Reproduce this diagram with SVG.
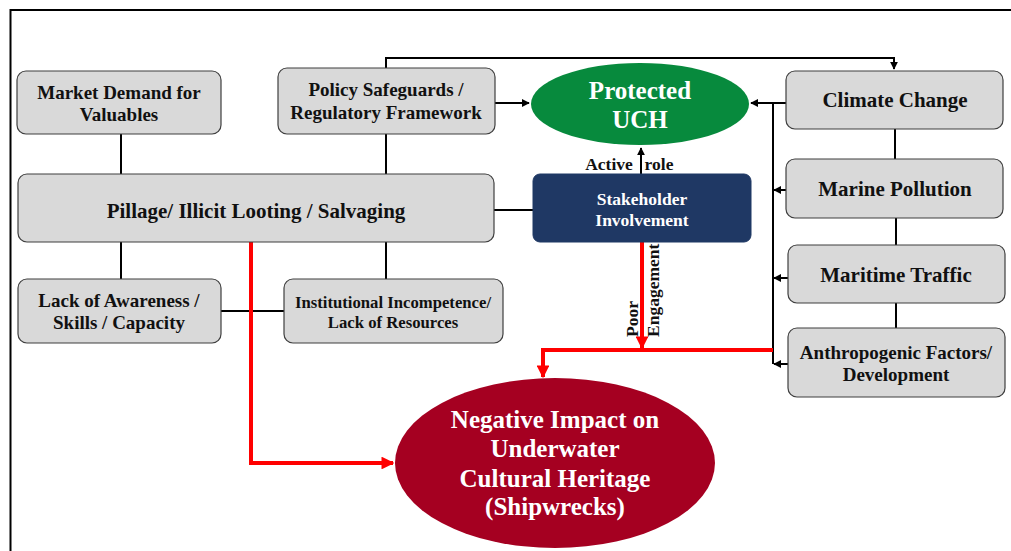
<svg xmlns="http://www.w3.org/2000/svg" width="1011" height="551" viewBox="0 0 1011 551">
<style>
.box{fill:#D9D9D9;stroke:#3F3F3F;stroke-width:1.2}
.t{font-family:"Liberation Serif","Times New Roman",serif;font-weight:bold;text-anchor:middle;fill:#111}
.w{fill:#fff}
.ln{stroke:#000;stroke-width:2;fill:none}
.red{stroke:#FF0000;stroke-width:4;fill:none}
</style>
<defs>
<marker id="ab" viewBox="0 0 10 10" refX="9" refY="5" markerWidth="4" markerHeight="4" orient="auto" markerUnits="strokeWidth"><path d="M0,0 L10,5 L0,10 z" fill="#000"/></marker>
<marker id="ar" viewBox="0 0 10 10" refX="9" refY="5" markerWidth="3.2" markerHeight="3.2" orient="auto" markerUnits="strokeWidth"><path d="M0,0 L10,5 L0,10 z" fill="#FF0000"/></marker>
</defs>
<rect x="0" y="0" width="1011" height="551" fill="#fff"/>
<rect x="10.5" y="10" width="1010" height="560" fill="none" stroke="#000" stroke-width="2"/>

<g id="connectors">
<path class="ln" d="M121,134 V174"/>
<path class="ln" d="M386,134 V174"/>
<path class="ln" d="M121,242 V279"/>
<path class="ln" d="M386,242 V279"/>
<path class="ln" d="M221,311 H284"/>
<path class="ln" d="M494,210 H533"/>
<path class="ln" d="M386,68 V58 H894 V69" marker-end="url(#ab)"/>
<path class="ln" d="M495,103 H529" marker-end="url(#ab)"/>
<path class="ln" d="M786,103 H751" marker-end="url(#ab)"/>
<path class="ln" d="M641,174 V148" marker-end="url(#ab)"/>
<path class="ln" d="M773,103 V364"/>
<path class="ln" d="M786,190 H774" marker-end="url(#ab)"/>
<path class="ln" d="M788,278 H774" marker-end="url(#ab)"/>
<path class="ln" d="M788,364 H774" marker-end="url(#ab)"/>
<path class="ln" d="M895,129 V159"/>
<path class="ln" d="M896,218 V245"/>
<path class="ln" d="M896,303 V328"/>
<path class="red" d="M642,242 V348" marker-end="url(#ar)"/>
<path class="red" d="M773,350 H543 V377" marker-end="url(#ar)"/>
<path class="red" d="M251,242 V463 H393" marker-end="url(#ar)"/>
<text class="t" x="609" y="170" font-size="17.5">Active</text>
<text class="t" x="659" y="170" font-size="17.5">role</text>
<text class="t" font-size="17.5" transform="translate(638,337) rotate(-90)" style="text-anchor:start">Poor</text>
<text class="t" font-size="17.5" transform="translate(659,337) rotate(-90)" style="text-anchor:start">Engagement</text>
</g>

<g id="market">
<rect class="box" x="17" y="71" width="204" height="63" rx="9"/>
<text class="t" x="119" y="99" font-size="19">Market Demand  for</text>
<text class="t" x="119" y="121" font-size="19">Valuables</text>
</g>
<g id="policy">
<rect class="box" x="278" y="68" width="217" height="66" rx="9"/>
<text class="t" x="386" y="96" font-size="19">Policy Safeguards /</text>
<text class="t" x="386" y="119" font-size="19">Regulatory Framework</text>
</g>
<g id="pillage">
<rect class="box" x="18" y="174" width="476" height="68" rx="9"/>
<text class="t" x="256" y="218" font-size="21">Pillage/ Illicit Looting / Salvaging</text>
</g>
<g id="awareness">
<rect class="box" x="18" y="279" width="203" height="64" rx="9"/>
<text class="t" x="119" y="307" font-size="19">Lack of Awareness /</text>
<text class="t" x="119" y="329" font-size="19">Skills / Capacity</text>
</g>
<g id="institutional">
<rect class="box" x="284" y="279" width="219" height="64" rx="9"/>
<text class="t" x="393" y="308" font-size="16.7">Institutional  Incompetence/</text>
<text class="t" x="393" y="328" font-size="16.7">Lack of Resources</text>
</g>
<g id="protected">
<ellipse cx="640" cy="104" rx="109" ry="41" fill="#078A3D"/>
<text class="t w" x="640" y="99" font-size="25">Protected</text>
<text class="t w" x="640" y="128" font-size="25">UCH</text>
</g>
<g id="stakeholder">
<rect x="533" y="174" width="218" height="68" rx="7" fill="#1F3864" stroke="#1F3864"/>
<text class="t w" x="642" y="205" font-size="17.5">Stakeholder</text>
<text class="t w" x="642" y="226" font-size="17.5">Involvement</text>
</g>
<g id="climate">
<rect class="box" x="786" y="71" width="217" height="58" rx="9"/>
<text class="t" x="895" y="107" font-size="21">Climate Change</text>
</g>
<g id="pollution">
<rect class="box" x="786" y="159" width="217" height="59" rx="9"/>
<text class="t" x="895" y="196" font-size="21">Marine Pollution</text>
</g>
<g id="traffic">
<rect class="box" x="788" y="245" width="217" height="58" rx="9"/>
<text class="t" x="896" y="282" font-size="21">Maritime Traffic</text>
</g>
<g id="anthropogenic">
<rect class="box" x="788" y="328" width="217" height="69" rx="9"/>
<text class="t" x="896" y="359" font-size="19">Anthropogenic Factors/</text>
<text class="t" x="896" y="381" font-size="19">Development</text>
</g>
<g id="negative">
<ellipse cx="555" cy="463" rx="160" ry="85" fill="#A50021"/>
<text class="t w" x="555" y="428" font-size="25">Negative Impact on</text>
<text class="t w" x="555" y="457" font-size="25">Underwater</text>
<text class="t w" x="555" y="487" font-size="25">Cultural Heritage</text>
<text class="t w" x="555" y="515" font-size="25">(Shipwrecks)</text>
</g>
</svg>
